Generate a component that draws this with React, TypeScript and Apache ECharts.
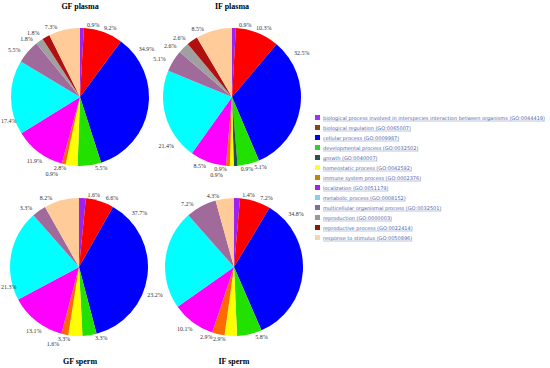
import React, { useEffect, useRef } from "react";
import * as echarts from "echarts";

const categories = [
  "biological process involved in interspecies interaction between organisms (GO:0044419)",
  "biological regulation (GO:0065007)",
  "cellular process (GO:0009987)",
  "developmental process (GO:0032502)",
  "growth (GO:0040007)",
  "homeostatic process (GO:0042592)",
  "immune system process (GO:0002376)",
  "localization (GO:0051179)",
  "metabolic process (GO:0008152)",
  "multicellular organismal process (GO:0032501)",
  "reproduction (GO:0000003)",
  "reproductive process (GO:0022414)",
  "response to stimulus (GO:0050896)",
];

const sliceColors = [
  "#a020f0", "#ff0000", "#0000ff", "#22e000", "#1a5050", "#ffff00", "#ff6a00",
  "#ff00ff", "#00ffff", "#a06a9a", "#a0a0a0", "#b01010", "#ffcc99",
];
const legendColors = [
  "#9b30ff", "#8b4513", "#0000ee", "#33cc33", "#2f4f4f", "#ffff33", "#b8860b",
  "#a020f0", "#87ceeb", "#7f6f8f", "#999999", "#8b1a00", "#eed8ae",
];

const gfPlasma = [0.9, 9.2, 34.9, 5.5, 0, 2.8, 0.9, 11.9, 17.4, 5.5, 1.8, 1.8, 7.3];
const ifPlasma = [0.9, 10.3, 32.5, 5.1, 0.9, 0.9, 0.9, 8.5, 21.4, 5.1, 2.6, 2.6, 8.5];
const gfSperm = [1.6, 6.6, 37.7, 3.3, 0, 3.3, 1.6, 13.1, 21.3, 3.3, 0, 0, 8.2];
const ifSperm = [1.4, 7.2, 34.8, 5.8, 0, 2.9, 2.9, 10.1, 23.2, 7.2, 0, 0, 4.3];

const pieTitles = ["GF plasma", "IF plasma", "GF sperm", "IF sperm"];

export default function App() {
  const ref = useRef<HTMLDivElement>(null);
  useEffect(() => {
    document.body.style.margin = "0";
    if (!ref.current) return;
    const chart = echarts.init(ref.current, null, { renderer: "svg" });

    const legendFontFamily = "DejaVu Sans, Verdana, sans-serif";
    const canvas = document.createElement("canvas");
    const ctx = canvas.getContext("2d")!;
    ctx.font = `10px ${legendFontFamily}`;
    const w10 = ctx.measureText(categories[0]).width;
    const legendFs = Math.round((10 * 224 / w10) * 10) / 10;
    ctx.font = `${legendFs}px ${legendFontFamily}`;

    const pies = [
      { values: gfPlasma, center: [80, 97] },
      { values: ifPlasma, center: [232, 97] },
      { values: gfSperm, center: [79, 267] },
      { values: ifSperm, center: [234, 267] },
    ];
    const R = 69;
    const HEAD_MAX = 12 / 3.6; // label sits ~12° into a slice (or at its middle if narrower)

    const overlap = (a: any, b: any) =>
      a.x < b.x + b.width && b.x < a.x + a.width && a.y < b.y + b.height && b.y < a.y + a.height;

    const makeLabelLayout = (c: number[]) => {
      const store: Record<number, any> = {};
      return (params: any) => {
        if (!params.labelRect) return {};
        const r0 = params.labelRect;
        let dx = 0;
        if (r0.x < 1) dx = 1 - r0.x;
        const dir = r0.y + r0.height / 2 < c[1] ? -1 : 1;
        let dy = 0;
        const others = Object.keys(store)
          .map(Number)
          .filter((k) => k < params.dataIndex)
          .map((k) => store[k]);
        for (let n = 0; n < 30; n++) {
          const r = { x: r0.x + dx, y: r0.y + dy + 0.5, width: r0.width, height: r0.height - 1 };
          if (!others.some((o) => overlap(o, r))) break;
          dy += dir;
        }
        store[params.dataIndex] = {
          x: r0.x + dx,
          y: r0.y + dy + 0.5,
          width: r0.width,
          height: r0.height - 1,
        };
        return { dx, dy };
      };
    };

    const series: any[] = [];
    pies.forEach((p) => {
      // visible pie
      series.push({
        type: "pie",
        center: p.center,
        radius: R,
        startAngle: 90,
        clockwise: true,
        silent: true,
        label: { show: false },
        labelLine: { show: false },
        itemStyle: { borderWidth: 0 },
        data: categories
          .map((name, i) => ({ name, value: p.values[i], itemStyle: { color: sliceColors[i] } }))
          .filter((d) => d.value > 0),
      });
      // transparent companion pie that carries the percentage labels
      const ldata: any[] = [];
      categories.forEach((name, i) => {
        const v = p.values[i];
        if (!(v > 0)) return;
        const head = Math.min(v / 2, HEAD_MAX);
        ldata.push({ name: name + " a", value: head, label: { show: false } });
        ldata.push({ name: name + " l", value: 0, pct: v, label: { show: true } });
        ldata.push({ name: name + " b", value: v - head, label: { show: false } });
      });
      series.push({
        type: "pie",
        center: p.center,
        radius: R,
        startAngle: 90,
        clockwise: true,
        silent: true,
        avoidLabelOverlap: false,
        minShowLabelAngle: 0,
        itemStyle: { color: "transparent", borderWidth: 0 },
        label: {
          position: "outside",
          formatter: (d: any) => `${d.data.pct}%`,
          fontFamily: "Liberation Serif, Times New Roman, serif",
          fontSize: 6,
          color: "#333",
          overflow: "none",
        },
        labelLine: { show: false, length: 3, length2: 0 },
        labelLayout: makeLabelLayout(p.center),
        data: ldata,
      });
    });

    const titlePos = [
      [80, 6],
      [232, 6],
      [80, 361],
      [234, 361],
    ];
    const graphics: any[] = pieTitles.map((t, i) => ({
      type: "text",
      x: titlePos[i][0],
      y: titlePos[i][1],
      style: {
        text: t,
        fontFamily: "Liberation Serif, Times New Roman, serif",
        fontWeight: "bold",
        fontSize: 8,
        fill: "#000",
        align: "center",
        verticalAlign: "middle",
      },
    }));

    categories.forEach((name, i) => {
      const y = 118 + i * 10;
      graphics.push({
        type: "rect",
        shape: { x: 315, y: y - 3, width: 5, height: 5 },
        style: { fill: legendColors[i] },
      });
      graphics.push({
        type: "text",
        x: 323,
        y: y,
        style: {
          text: name,
          fontFamily: legendFontFamily,
          fontSize: legendFs,
          fill: "#5566a6",
          align: "left",
          verticalAlign: "middle",
        },
      });
      const tw = ctx.measureText(name).width;
      graphics.push({
        type: "line",
        shape: { x1: 323, y1: y + 3, x2: 323 + tw, y2: y + 3 },
        style: { stroke: "#7a88bb", lineWidth: 0.5 },
      });
    });

    chart.setOption({
      animation: false,
      backgroundColor: "#fff",
      series,
      graphic: graphics,
    });
    return () => chart.dispose();
  }, []);
  return <div ref={ref} style={{ width: 550, height: 368 }} />;
}
